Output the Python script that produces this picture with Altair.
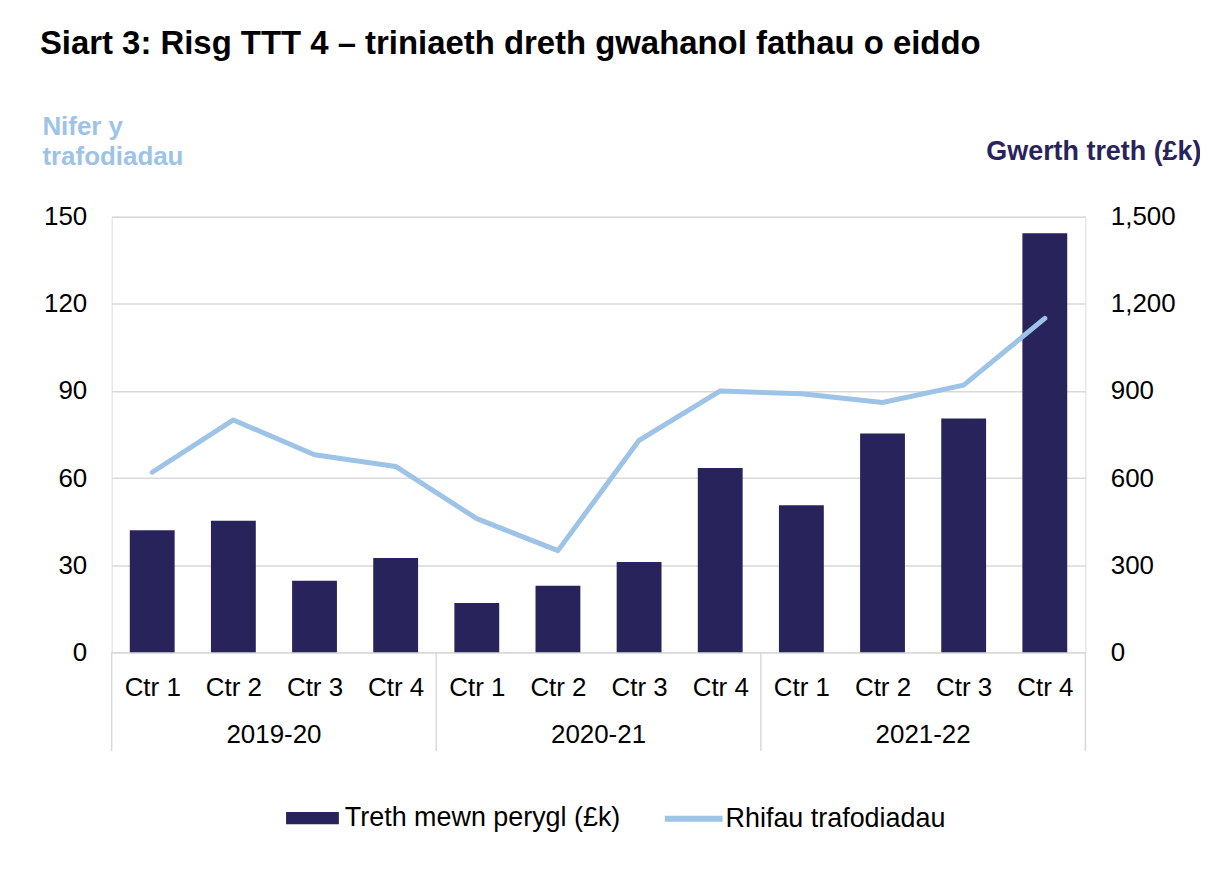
import altair as alt
import pandas as pd

# ---- data ----
years = ["2019-20", "2020-21", "2021-22"]
quarters = ["Ctr 1", "Ctr 2", "Ctr 3", "Ctr 4"]
tax_k = [420, 453, 246, 325, 170, 229, 311, 635, 506, 753, 805, 1443]
transactions = [62, 80, 68, 64, 46, 35, 73, 90, 89, 86, 92, 115]
left_ticks = [0, 30, 60, 90, 120, 150]
right_ticks = [0, 300, 600, 900, 1200, 1500]

title_text = "Siart 3: Risg TTT 4 \u2013 triniaeth dreth gwahanol fathau o eiddo"
bar_name = "Treth mewn perygl (\u00a3k)"
line_name = "Rhifau trafodiadau"

NAVY = "#29235C"
LIGHT = "#9DC3E6"
GRID = "#D9D9D9"
FONT = "Liberation Sans"

rows = []
for yi, yr in enumerate(years):
    for qi, q in enumerate(quarters):
        i = yi * len(quarters) + qi
        rows.append({"idx": i, "year": yr, "quarter": q,
                     "tax": tax_k[i], "n": transactions[i],
                     "sb": bar_name, "sl": line_name})
df = pd.DataFrame(rows)

n_cat = len(df)
year_mid = df.groupby("year", as_index=False)["idx"].mean()
bounds = sorted(set((df.groupby("year")["idx"].min() - 0.5).tolist() + [df["idx"].max() + 0.5]))
bounds_df = pd.DataFrame({"idx": bounds})

W, H = 977, 437

label_expr = "[" + ",".join("'%s'" % q for q in df["quarter"]) + "][datum.value]"

x_enc = alt.X(
    "idx:Q",
    scale=alt.Scale(domain=[-0.5, n_cat - 0.5], nice=False, zero=False, padding=0),
    axis=alt.Axis(values=list(range(n_cat)), labelExpr=label_expr, title=None,
                  ticks=False, grid=False, domain=True, domainColor=GRID, domainWidth=1.5,
                  labelBaseline="alphabetic", labelPadding=43, labelFontSize=26,
                  labelColor="black", labelFont=FONT),
)

bars = alt.Chart(df).mark_bar(size=45, color=NAVY).encode(
    x=x_enc,
    y=alt.Y("tax:Q",
            scale=alt.Scale(domain=[0, 1500], nice=False),
            axis=alt.Axis(orient="right", values=right_ticks, format=",.0f", grid=False,
                          ticks=False, domain=False, labelPadding=25, labelFontSize=26,
                          labelColor="black", labelFont=FONT,
                          title="Gwerth treth (\u00a3k)", titleAngle=0, titleX=116, titleY=-57,
                          titleAlign="right", titleBaseline="alphabetic", titleFontSize=27,
                          titleFontWeight="bold", titleColor=NAVY, titleFont=FONT)),
    color=alt.Color("sb:N", scale=alt.Scale(range=[NAVY]),
                    legend=alt.Legend(title=None, orient="none", legendX=175, legendY=577,
                                      symbolType="M-1,-0.23H1V0.23H-1Z", symbolSize=2809,
                                      symbolStrokeWidth=0, labelFontSize=27, labelFont=FONT,
                                      labelColor="black", labelOffset=6, labelLimit=0,
                                      padding=0)),
)

line = alt.Chart(df).mark_line(strokeWidth=5, strokeCap="round", strokeJoin="round").encode(
    x=x_enc,
    y=alt.Y("n:Q",
            scale=alt.Scale(domain=[0, 150], nice=False),
            axis=alt.Axis(orient="left", values=left_ticks, grid=True, gridColor=GRID,
                          gridWidth=1.5, ticks=False, domain=False, labelPadding=25,
                          labelFontSize=26, labelColor="black", labelFont=FONT,
                          title=["Nifer y", "trafodiadau"], titleAngle=0, titleX=-70,
                          titleY=-82, titleAlign="left", titleBaseline="alphabetic",
                          titleLineHeight=30, titleFontSize=26, titleFontWeight="bold",
                          titleColor=LIGHT, titleFont=FONT)),
    stroke=alt.Stroke("sl:N", scale=alt.Scale(range=[LIGHT]),
                      legend=alt.Legend(title=None, orient="none", legendX=552, legendY=572,
                                        symbolType="stroke", symbolSize=3364,
                                        symbolStrokeWidth=6, labelFontSize=27, labelFont=FONT,
                                        labelColor="black", labelOffset=0, labelLimit=0,
                                        padding=0)),
)

seps = alt.Chart(bounds_df).mark_rule(color=GRID, strokeWidth=1.5).encode(
    x=x_enc, y=alt.value(H), y2=alt.value(H + 99)
)

year_labels = alt.Chart(year_mid).mark_text(
    fontSize=26, font=FONT, color="black", baseline="alphabetic", align="center"
).encode(x=x_enc, y=alt.value(H + 91), text="year:N")

title = alt.Chart(pd.DataFrame({"t": [title_text]})).mark_text(
    fontSize=33, font=FONT, fontWeight="bold", color="black",
    align="left", baseline="alphabetic"
).encode(x=alt.value(-72), y=alt.value(-163), text="t:N")

chart = alt.layer(bars, line, seps, year_labels, title).resolve_scale(
    y="independent", color="independent", stroke="independent"
).properties(
    width=W, height=H,
    autosize=alt.AutoSizeParams(type="none"),
    padding={"left": 104, "top": 208, "right": 115, "bottom": 200},
).configure_view(stroke=None).configure(background="white")

chart.save("out.html", embed_options={"renderer": "svg", "actions": False})
